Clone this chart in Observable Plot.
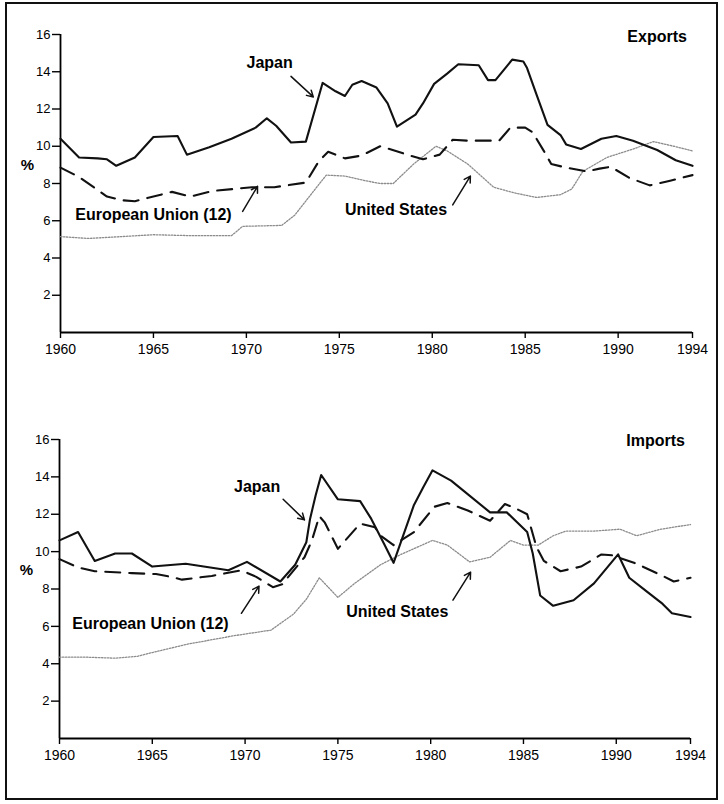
<!DOCTYPE html>
<html><head><meta charset="utf-8">
<script src="https://cdn.jsdelivr.net/npm/d3@7"></script>
<script src="https://cdn.jsdelivr.net/npm/@observablehq/plot@0.6"></script>
<style>
body{margin:0;background:#fff;font-family:"Liberation Sans",Arial,Helvetica,sans-serif;}
#frame{position:absolute;left:5px;top:2px;width:713px;height:798px;border:2px solid #111;box-sizing:border-box;}
#frame svg{display:block;}
</style></head><body><div id="frame"></div>
<script>
// ---------- data (year, % share) ----------
const xTicks = [1960, 1965, 1970, 1975, 1980, 1985, 1990, 1994];
const yTicks = [2, 4, 6, 8, 10, 12, 14, 16];

const exportsJapan = [[1960,10.4],[1961,9.4],[1962,9.35],[1962.5,9.3],[1963,8.95],[1964,9.4],[1965,10.5],[1966.3,10.55],[1966.8,9.55],[1968,9.95],[1969.2,10.4],[1970.5,11.0],[1971.1,11.5],[1971.6,11.1],[1972.4,10.2],[1973.2,10.25],[1974.1,13.4],[1974.8,12.95],[1975.3,12.7],[1975.7,13.3],[1976.2,13.5],[1977.0,13.15],[1977.6,12.3],[1978.1,11.05],[1979.1,11.7],[1979.5,12.3],[1980.1,13.35],[1980.8,13.9],[1981.4,14.4],[1982.5,14.35],[1983.0,13.55],[1983.4,13.55],[1984.3,14.65],[1984.9,14.55],[1985.1,14.2],[1985.6,12.8],[1986.2,11.15],[1986.9,10.6],[1987.2,10.1],[1988.0,9.85],[1989.1,10.4],[1989.9,10.55],[1990.8,10.3],[1992.1,9.8],[1993.1,9.25],[1994,8.95]];
const exportsEU = [[1960,8.85],[1961,8.35],[1962.5,7.3],[1963.3,7.1],[1964,7.05],[1965,7.3],[1966,7.55],[1967,7.3],[1968.2,7.6],[1970.3,7.8],[1971.5,7.8],[1973.2,8.05],[1973.9,9.2],[1974.4,9.7],[1975.3,9.35],[1976.2,9.5],[1977.2,10.0],[1977.7,9.85],[1978.8,9.5],[1979.5,9.3],[1980.4,9.55],[1981.1,10.35],[1981.9,10.3],[1983.6,10.3],[1984.2,11.0],[1985,11.0],[1985.4,10.75],[1986,9.75],[1986.4,9.05],[1987.2,8.85],[1988.3,8.65],[1989,8.8],[1989.6,8.9],[1990.6,8.3],[1991.7,7.9],[1992.8,8.15],[1994,8.45]];
const exportsUS = [[1960,5.15],[1961.5,5.05],[1963.3,5.15],[1965,5.25],[1967,5.2],[1969.2,5.2],[1969.8,5.7],[1971.9,5.75],[1972.6,6.3],[1973.9,7.95],[1974.3,8.45],[1975.3,8.4],[1976.4,8.15],[1977.2,8.0],[1977.9,8.0],[1979,9.05],[1980.2,10.0],[1980.8,9.75],[1981.9,9.05],[1983.3,7.8],[1984.4,7.5],[1985.6,7.25],[1986.9,7.4],[1987.5,7.7],[1988.1,8.65],[1989.4,9.4],[1990.8,9.85],[1991.9,10.25],[1993,10.0],[1994,9.75]];

const importsJapan = [[1960,10.6],[1961,11.05],[1961.9,9.5],[1963,9.9],[1963.9,9.9],[1965,9.2],[1966.8,9.35],[1969.1,9.0],[1970.1,9.45],[1971.9,8.4],[1972.7,9.3],[1973.3,10.5],[1973.5,11.75],[1973.8,13.0],[1974.1,14.1],[1975,12.8],[1976.2,12.7],[1976.8,11.75],[1977.5,10.4],[1978,9.4],[1979.1,12.5],[1979.6,13.45],[1980.1,14.35],[1981.1,13.8],[1983.2,12.1],[1984.1,12.1],[1985.2,11.05],[1985.5,9.9],[1985.9,7.65],[1986.6,7.1],[1987.7,7.4],[1988.8,8.3],[1990.1,9.85],[1990.7,8.6],[1991.6,7.9],[1992.5,7.2],[1993,6.7],[1994,6.5]];
const importsEU = [[1960,9.6],[1961,9.15],[1961.9,8.95],[1963.9,8.85],[1965.2,8.8],[1966,8.65],[1966.6,8.5],[1968.2,8.7],[1969.8,9.0],[1970.6,8.65],[1971.5,8.1],[1972,8.25],[1973.2,9.7],[1973.6,10.6],[1974,11.9],[1974.3,11.55],[1975,10.15],[1976.2,11.5],[1977,11.3],[1977.3,10.85],[1978,10.35],[1979.1,11.05],[1980.2,12.4],[1980.9,12.6],[1982,12.2],[1983.2,11.65],[1984,12.55],[1984.6,12.3],[1985.2,12.0],[1985.7,10.25],[1986.1,9.5],[1987,8.95],[1988.1,9.2],[1989.2,9.85],[1989.8,9.8],[1991.1,9.35],[1992.5,8.7],[1993.1,8.4],[1994,8.6]];
const importsUS = [[1960,4.35],[1961.5,4.35],[1963,4.3],[1964.2,4.4],[1965,4.6],[1966.9,5.05],[1969.4,5.5],[1971.4,5.8],[1972.6,6.65],[1973.3,7.45],[1974,8.6],[1975,7.55],[1975.9,8.3],[1977.3,9.3],[1978.4,9.85],[1980.1,10.6],[1980.9,10.35],[1982.1,9.45],[1983.2,9.7],[1984.3,10.6],[1985,10.35],[1985.8,10.35],[1986.6,10.85],[1987.3,11.1],[1988.8,11.1],[1990.2,11.2],[1991.1,10.85],[1992.4,11.2],[1994,11.45]];

// ---------- annotations (data coordinates) ----------
const exportsTitle = [{x: 1993.7, y: 15.85, text: "Exports"}];
const exportsNotes = [
  {x: 1971.25, y: 14.45, text: "Japan"},
  {x: 1965.0, y: 6.3, text: "European Union (12)"},
  {x: 1978.05, y: 6.6, text: "United States"}
];
const exportsArrows = [
  {x1: 1972.4, y1: 13.75, x2: 1973.6, y2: 12.65},
  {x1: 1969.8, y1: 6.5, x2: 1970.6, y2: 7.85},
  {x1: 1981.1, y1: 6.85, x2: 1982.05, y2: 8.4}
];
const importsTitle = [{x: 1993.7, y: 15.9, text: "Imports"}];
const importsNotes = [
  {x: 1970.65, y: 13.45, text: "Japan"},
  {x: 1964.9, y: 6.15, text: "European Union (12)"},
  {x: 1978.2, y: 6.75, text: "United States"}
];
const importsArrows = [
  {x1: 1972.05, y1: 12.8, x2: 1973.2, y2: 11.7},
  {x1: 1969.8, y1: 6.7, x2: 1970.75, y2: 8.15},
  {x1: 1981.2, y1: 7.4, x2: 1982.15, y2: 8.9}
];

const FONT = '"Liberation Sans", Arial, Helvetica, sans-serif';
const rows = (arr) => arr.map(([year, value]) => ({year, value}));

function panel({japan, eu, us, title, notes, arrows, height, mt, mb, ml, mr}) {
  return Plot.plot({
    width: 709, height,
    marginTop: mt, marginBottom: mb, marginLeft: ml, marginRight: mr,
    x: {domain: [1960, 1994]},
    y: {domain: [0, 16]},
    style: {fontFamily: FONT, color: "#000", background: "transparent", overflow: "visible"},
    marks: [
      Plot.axisY({ticks: yTicks, tickSize: 8, tickPadding: 2, label: null, fontSize: 13, strokeWidth: 1.4}),
      Plot.axisX({ticks: xTicks, tickFormat: d => String(d), tickSize: 6, tickPadding: 6, label: null, fontSize: 14, strokeWidth: 1.4}),
      Plot.ruleX([1960], {y1: 0, y2: 16, strokeWidth: 1.8}),
      Plot.ruleY([0], {strokeWidth: 1.8}),
      Plot.line(rows(us), {x: "year", y: "value", stroke: "#8c8c8c", strokeWidth: 1.3, strokeDasharray: "1.5,1.5"}),
      Plot.line(rows(eu), {x: "year", y: "value", stroke: "#111", strokeWidth: 2.1, strokeDasharray: "15,9"}),
      Plot.line(rows(japan), {x: "year", y: "value", stroke: "#111", strokeWidth: 2.1}),
      Plot.arrow(arrows, {x1: "x1", y1: "y1", x2: "x2", y2: "y2", stroke: "#111", strokeWidth: 1.5, headLength: 7}),
      Plot.text(notes, {x: "x", y: "y", text: "text", textAnchor: "middle", fontWeight: "bold", fontSize: 16, fill: "#000"}),
      Plot.text(title, {x: "x", y: "y", text: "text", textAnchor: "end", fontWeight: "bold", fontSize: 16, fill: "#000"}),
      Plot.text(["%"], {x: () => 1960, y: () => 9, dx: -33, text: d => d, fontWeight: "bold", fontSize: 15, fill: "#000"})
    ]
  });
}

const frame = document.getElementById("frame");
frame.appendChild(panel({japan: exportsJapan, eu: exportsEU, us: exportsUS, title: exportsTitle, notes: exportsNotes, arrows: exportsArrows,
  height: 398, mt: 30, mb: 70, ml: 53, mr: 24}));
frame.appendChild(panel({japan: importsJapan, eu: importsEU, us: importsUS, title: importsTitle, notes: importsNotes, arrows: importsArrows,
  height: 394, mt: 37, mb: 58, ml: 52, mr: 26}));
</script></body></html>
